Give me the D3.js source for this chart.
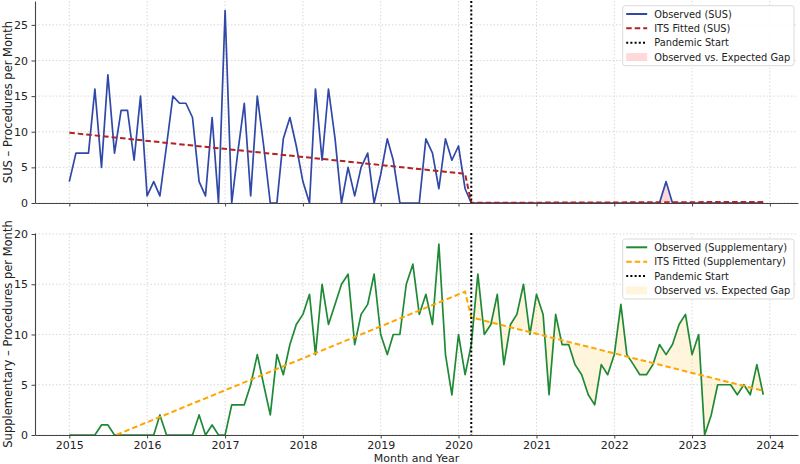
<!DOCTYPE html>
<html>
<head>
<meta charset="utf-8">
<script src="https://cdn.jsdelivr.net/npm/d3@7"></script>
<style>
  body { margin: 0; background: #fff; }
  svg { display: block; font-family: "DejaVu Sans", sans-serif; }
</style>
</head>
<body>
<div id="chart"></div>
<script>
// monthly counts, Jan 2015 .. Dec 2023
const susObserved = [
  3, 7, 7, 7, 16, 5, 18, 7, 13, 13, 6, 15,
  1, 3, 1, 8, 15, 14, 14, 12, 3, 1, 12, 0,
  27, 0, 7, 14, 1, 15, 8, 0, 0, 9, 12, 8,
  3, 0, 16, 6, 16, 9, 0, 5, 1, 5, 7, 0,
  4, 9, 6, 0, 0, 0, 0, 9, 7, 2, 9, 6,
  8, 2, 0, 0, 0, 0, 0, 0, 0, 0, 0, 0,
  0, 0, 0, 0, 0, 0, 0, 0, 0, 0, 0, 0,
  0, 0, 0, 0, 0, 0, 0, 0, 3, 0, 0, 0,
  0, 0, 0, 0, 0, 0, 0, 0, 0, 0, 0, 0
];
const suppObserved = [
  0, 0, 0, 0, 0, 1, 1, 0, 0, 0, 0, 0,
  0, 0, 2, 0, 0, 0, 0, 0, 2, 0, 1, 0,
  0, 3, 3, 3, 5, 8, 5, 2, 8, 6, 9, 11,
  12, 14, 8, 15, 11, 13, 15, 16, 9, 12, 13, 16,
  10, 8, 10, 10, 15, 17, 12, 14, 11, 19, 8, 4,
  10, 6, 9, 16, 10, 11, 14, 7, 11, 12, 15, 10,
  14, 12, 4, 12, 9, 9, 7, 6, 4, 3, 7, 6,
  8, 13, 8, 7, 6, 6, 7, 9, 8, 9, 11, 12,
  8, 10, 0, 2, 5, 5, 5, 4, 5, 4, 7, 4
];
// ITS fitted segments: pre-pandemic start/end, post-pandemic start/end
const fitDates = ["2015-01", "2020-02", "2020-03", "2023-12"];
const susFitted = [9.86, 4.1, 0.02, 0.15];
const suppFitted = [-1.91, 14.26, 11.7, 4.4];
const pandemicStart = "2020-03";
const yearTicks = [2015, 2016, 2017, 2018, 2019, 2020, 2021, 2022, 2023, 2024];

const parseMonth = d3.timeParse("%Y-%m");
const months = d3.timeMonth.range(new Date(2015, 0, 1), new Date(2024, 0, 1));
const pandemic = parseMonth(pandemicStart);

const width = 800, height = 464;
const svg = d3.select("#chart").append("svg")
    .attr("width", width)
    .attr("height", height);

const x = d3.scaleTime()
    .domain([new Date(2014, 6, 24), new Date(2024, 4, 12)])
    .range([35, 798]);

const panels = [
  {
    id: "sus", top: 1, bottom: 203, ymax: 28.35, yticks: [0, 5, 10, 15, 20, 25],
    observed: susObserved, fitted: susFitted,
    lineColor: "#3048a8", fitColor: "#b22222", gapColor: "rgba(255,0,0,0.15)",
    ylabel: "SUS \u2013 Procedures per Month",
    names: ["Observed (SUS)", "ITS Fitted (SUS)"],
    legendTop: 5.7, fitDash: "5.5,3"
  },
  {
    id: "supp", top: 233, bottom: 435, ymax: 20.1, yticks: [0, 5, 10, 15, 20],
    observed: suppObserved, fitted: suppFitted,
    lineColor: "#1e8a35", fitColor: "#ffa500", gapColor: "rgba(255,205,80,0.2)",
    ylabel: "Supplementary \u2013 Procedures per Month",
    names: ["Observed (Supplementary)", "ITS Fitted (Supplementary)"],
    legendTop: 239, fitDash: "5.5,3"
  }
];

panels.forEach((p, i) => {
  const y = d3.scaleLinear().domain([0, p.ymax]).range([p.bottom, p.top]);
  const g = svg.append("g");

  svg.append("clipPath").attr("id", "clip-" + p.id)
    .append("rect")
    .attr("x", 35).attr("y", p.top)
    .attr("width", 763).attr("height", p.bottom - p.top);

  // grid
  g.append("g").selectAll("line")
    .data(yearTicks)
    .join("line")
    .attr("x1", d => x(new Date(d, 0, 1))).attr("x2", d => x(new Date(d, 0, 1)))
    .attr("y1", p.top).attr("y2", p.bottom)
    .attr("stroke", "#cfcfcf").attr("stroke-width", 0.8)
    .attr("stroke-dasharray", "1.5,2");
  g.append("g").selectAll("line")
    .data(p.yticks)
    .join("line")
    .attr("x1", 35).attr("x2", 798)
    .attr("y1", d => y(d)).attr("y2", d => y(d))
    .attr("stroke", "#cfcfcf").attr("stroke-width", 0.8)
    .attr("stroke-dasharray", "1.5,2");

  const series = months.map((m, k) => ({date: m, value: p.observed[k]}));
  const fitScale = d3.scaleLinear()
      .domain(fitDates.slice(2).map(parseMonth))
      .range(p.fitted.slice(2));
  const post = series.filter(d => d.date >= pandemic);

  const plot = g.append("g").attr("clip-path", `url(#clip-${p.id})`);

  // gap between observed and expected, post-pandemic
  plot.append("path")
      .datum(post)
      .attr("fill", p.gapColor)
      .attr("stroke", "none")
      .attr("d", d3.area()
          .x(d => x(d.date))
          .y0(d => y(fitScale(d.date)))
          .y1(d => y(d.value)));

  plot.append("path")
      .datum(series)
      .attr("fill", "none")
      .attr("stroke", p.lineColor)
      .attr("stroke-width", 1.7)
      .attr("stroke-linejoin", "round")
      .attr("d", d3.line()
          .x(d => x(d.date))
          .y(d => y(d.value)));

  const fit = fitDates.map((d, k) => ({date: parseMonth(d), value: p.fitted[k]}));
  plot.append("path")
      .datum(fit)
      .attr("fill", "none")
      .attr("stroke", p.fitColor)
      .attr("stroke-width", 2)
      .attr("stroke-dasharray", p.fitDash)
      .attr("d", d3.line()
          .x(d => x(d.date))
          .y(d => y(d.value)));

  // pandemic marker
  g.append("line")
      .attr("x1", x(pandemic)).attr("x2", x(pandemic))
      .attr("y1", p.top).attr("y2", p.bottom)
      .attr("stroke", "#000")
      .attr("stroke-width", 2)
      .attr("stroke-dasharray", "2,2.2");

  // axes
  const xAxis = d3.axisBottom(x)
      .tickValues(yearTicks.map(d => new Date(d, 0, 1)))
      .tickFormat(i === 1 ? d3.timeFormat("%Y") : "")
      .tickSize(3.5).tickSizeOuter(0).tickPadding(2.3);
  const ax = g.append("g")
      .attr("transform", `translate(0, ${p.bottom})`)
      .call(xAxis);
  const ay = g.append("g")
      .attr("transform", "translate(35, 0)")
      .call(d3.axisLeft(y).tickValues(p.yticks).tickSize(3.5).tickSizeOuter(0).tickPadding(3.5));
  [ax, ay].forEach(a => {
    a.select(".domain").attr("stroke", "#444").attr("stroke-width", 1.1);
    a.selectAll(".tick line").attr("stroke", "#444");
    a.selectAll(".tick text").attr("fill", "#222").style("font-size", "11px")
        .style("font-family", "DejaVu Sans");
  });

  svg.append("text")
      .attr("transform", `translate(12, ${(p.top + p.bottom) / 2}) rotate(-90)`)
      .attr("text-anchor", "middle")
      .attr("fill", "#222")
      .style("font-size", "11.5px")
      .text(p.ylabel);

  // legend
  const lg = svg.append("g").attr("transform", `translate(622.7, ${p.legendTop})`);
  lg.append("rect")
      .attr("width", 171.3).attr("height", 60)
      .attr("rx", 2.5)
      .attr("fill", "rgba(255,255,255,0.85)")
      .attr("stroke", "#d0d0d0").attr("stroke-width", 0.8);
  const items = [
    {label: p.names[0], kind: "line", color: p.lineColor, dash: null},
    {label: p.names[1], kind: "line", color: p.fitColor, dash: p.fitDash},
    {label: "Pandemic Start", kind: "line", color: "#000", dash: "2,2.2"},
    {label: "Observed vs. Expected Gap", kind: "patch", color: p.gapColor}
  ];
  items.forEach((it, k) => {
    const cy = 8.3 + k * 14.35;
    if (it.kind === "line") {
      lg.append("line")
          .attr("x1", 3.5).attr("x2", 24.5)
          .attr("y1", cy).attr("y2", cy)
          .attr("stroke", it.color).attr("stroke-width", 2)
          .attr("stroke-dasharray", it.dash);
    } else {
      lg.append("rect")
          .attr("x", 3.5).attr("y", cy - 4)
          .attr("width", 21).attr("height", 8)
          .attr("fill", it.color);
    }
    lg.append("text")
        .attr("x", 31.5).attr("y", cy)
        .attr("dy", "0.36em")
        .attr("fill", "#222")
        .style("font-size", "9.8px")
        .text(it.label);
  });
});

svg.append("text")
    .attr("x", 416.5).attr("y", 462.3)
    .attr("text-anchor", "middle")
    .attr("fill", "#222")
    .style("font-size", "11px")
    .text("Month and Year");
</script>
</body>
</html>
